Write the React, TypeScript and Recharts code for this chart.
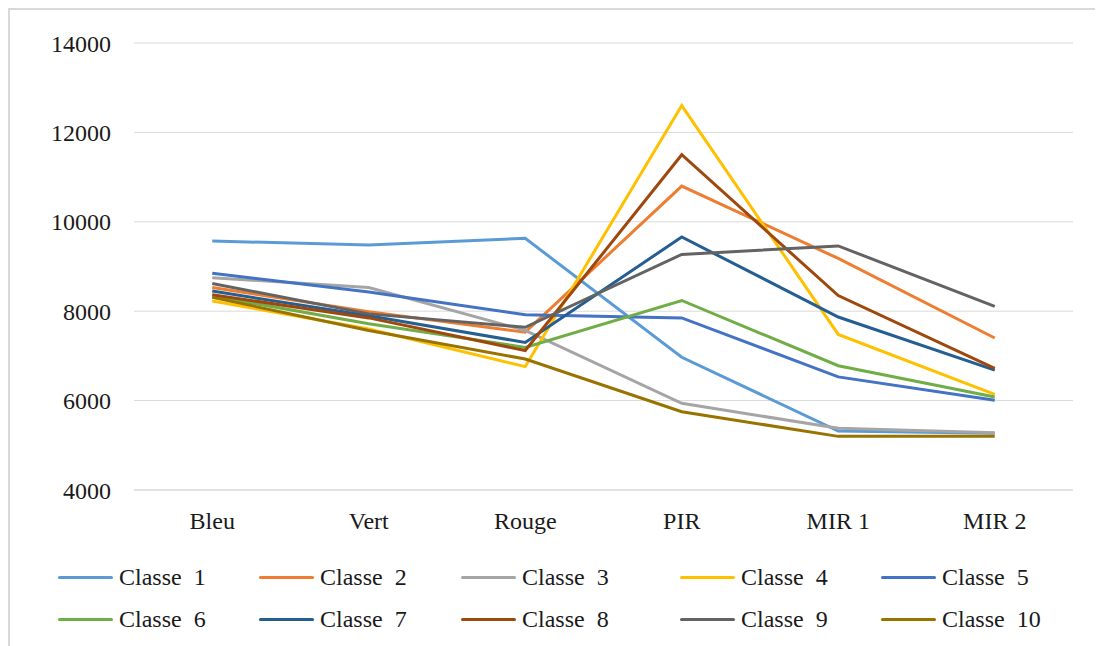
import React from "react";
import {
  LineChart,
  Line,
  XAxis,
  YAxis,
  CartesianGrid,
  Legend,
} from "recharts";

const categories = ["Bleu", "Vert", "Rouge", "PIR", "MIR 1", "MIR 2"];
const yTicks = [4000, 6000, 8000, 10000, 12000, 14000];
const edgeTicks = [0, 1, 2, 3, 4, 5, 6];

const classe1 = [9570, 9480, 9630, 6970, 5320, 5270];
const classe2 = [8530, 7990, 7530, 10800, 9180, 7400];
const classe3 = [8750, 8530, 7570, 5940, 5380, 5280];
const classe4 = [8230, 7600, 6760, 12600, 7480, 6140];
const classe5 = [8850, 8430, 7920, 7850, 6530, 6010];
const classe6 = [8340, 7720, 7190, 8240, 6780, 6080];
const classe7 = [8450, 7900, 7300, 9660, 7870, 6680];
const classe8 = [8370, 7850, 7120, 11500, 8350, 6720];
const classe9 = [8620, 7940, 7640, 9270, 9460, 8110];
const classe10 = [8310, 7570, 6930, 5750, 5200, 5200];

const seriesNames = [
  "Classe  1",
  "Classe  2",
  "Classe  3",
  "Classe  4",
  "Classe  5",
  "Classe  6",
  "Classe  7",
  "Classe  8",
  "Classe  9",
  "Classe  10",
];
const seriesValues = [
  classe1,
  classe2,
  classe3,
  classe4,
  classe5,
  classe6,
  classe7,
  classe8,
  classe9,
  classe10,
];
const seriesColors = [
  "#5B9BD5",
  "#ED7D31",
  "#A5A5A5",
  "#FFC000",
  "#4472C4",
  "#70AD47",
  "#255E91",
  "#9E480E",
  "#636363",
  "#997300",
];

const data = categories.map((cat, i) => {
  const row: Record<string, string | number> = { cat };
  seriesValues.forEach((vals, s) => {
    row[`s${s}`] = vals[i];
  });
  return row;
});

const FONT = '"Liberation Serif", "Times New Roman", serif';
const TEXT = "#1a1a1a";
const GRID = "#d9d9d9";

// legend layout (excel-ish columns)
const legendCols = [48, 249, 451, 670, 871];
const legendRows = [567, 609];

function LegendGrid() {
  return (
    <div style={{ position: "relative", width: 1093, height: 636 }}>
      {seriesNames.map((name, i) => {
        const col = i % 5;
        const row = Math.floor(i / 5);
        return (
          <div
            key={name}
            style={{
              position: "absolute",
              left: legendCols[col],
              top: legendRows[row] - 15,
              height: 30,
              display: "flex",
              alignItems: "center",
              whiteSpace: "pre",
              fontFamily: FONT,
              fontSize: 24,
              color: TEXT,
            }}
          >
            <span
              style={{
                display: "inline-block",
                width: 55,
                height: 3,
                borderRadius: 2,
                background: seriesColors[i],
                marginRight: 6,
              }}
            />
            {name}
          </div>
        );
      })}
    </div>
  );
}

// small tick marks between categories, hanging under the axis
function EdgeTick({ x, y }: { x?: number; y?: number }) {
  if (x == null || y == null) return null;
  return <line x1={x} x2={x} y1={y} y2={y + 8} stroke={GRID} strokeWidth={1} />;
}

export default function App() {
  return (
    <div
      style={{
        width: 1093,
        height: 636,
        borderTop: `2px solid ${GRID}`,
        borderLeft: `2px solid ${GRID}`,
        background: "#fff",
      }}
    >
      <LineChart
        width={1093}
        height={636}
        data={data}
        margin={{ top: 33, right: 30, left: 44, bottom: 106 }}
      >
        <CartesianGrid vertical={false} stroke={GRID} strokeWidth={1} />
        <XAxis
          xAxisId="edges"
          type="number"
          domain={[0, 6]}
          ticks={edgeTicks}
          height={0}
          tick={<EdgeTick />}
          axisLine={false}
          tickLine={false}
          tickSize={0}
          tickMargin={0}
          allowDataOverflow
        />
        <XAxis
          dataKey="cat"
          scale="band"
          height={50}
          axisLine={{ stroke: GRID }}
          tickLine={false}
          tickMargin={16}
          tick={{ fill: TEXT, fontFamily: FONT, fontSize: 24 }}
        />
        <YAxis
          domain={[4000, 14000]}
          ticks={yTicks}
          width={80}
          axisLine={false}
          tickLine={false}
          tickMargin={17}
          tick={{ fill: TEXT, fontFamily: FONT, fontSize: 24 }}
        />
        {seriesNames.map((name, i) => (
          <Line
            key={name}
            name={name}
            dataKey={`s${i}`}
            stroke={seriesColors[i]}
            strokeWidth={3}
            dot={false}
            activeDot={false}
            isAnimationActive={false}
          />
        ))}
        <Legend
          layout="horizontal"
          verticalAlign="middle"
          wrapperStyle={{ left: 0, top: 0, width: 1093, height: 636 }}
          content={() => <LegendGrid />}
        />
      </LineChart>
    </div>
  );
}
